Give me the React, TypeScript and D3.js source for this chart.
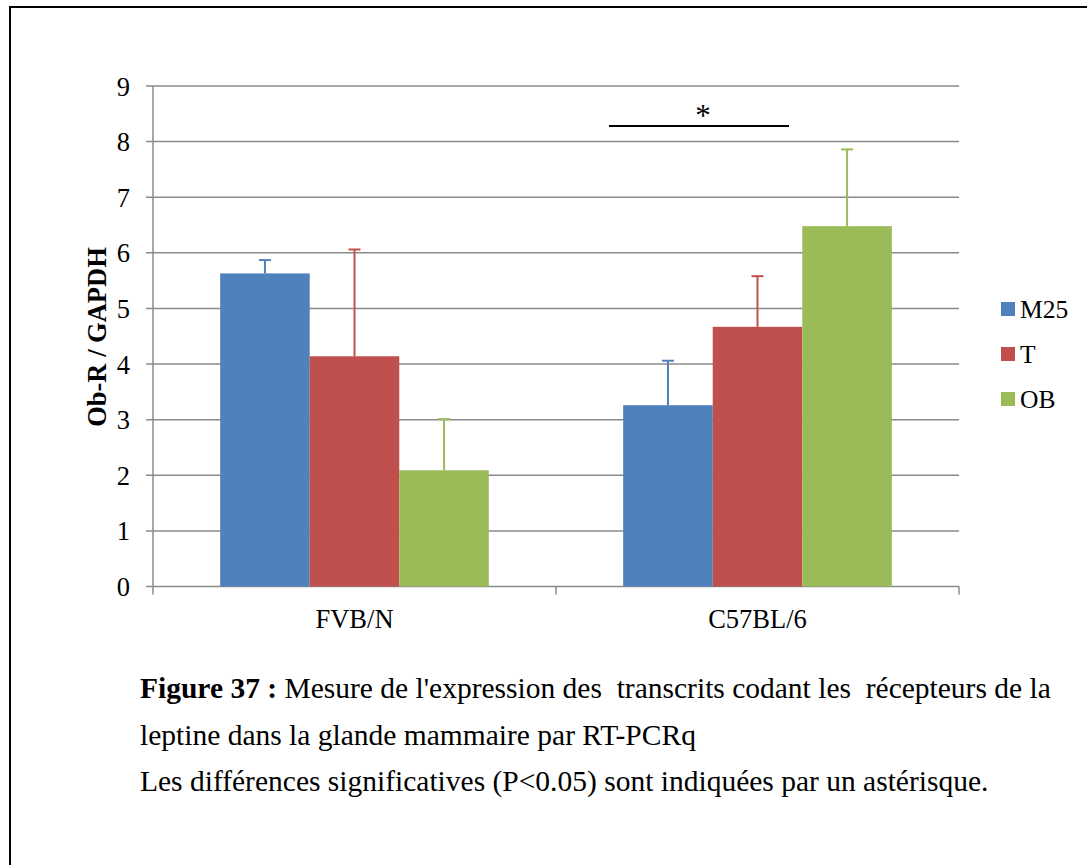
import React from "react";
import * as d3 from "d3";

const categories = ["FVB/N", "C57BL/6"];
const seriesNames = ["M25", "T", "OB"];
const seriesColors = ["#4F81BD", "#C0504D", "#9BBB59"];
const M25 = [5.63, 3.26];
const T = [4.14, 4.67];
const OB = [2.09, 6.48];
const M25err = [0.24, 0.8];
const Terr = [1.92, 0.91];
const OBerr = [0.92, 1.38];
const yTicks = [0, 1, 2, 3, 4, 5, 6, 7, 8, 9];
const captionLines = [
  "Mesure de l'expression des  transcrits codant les  récepteurs de la",
  "leptine dans la glande mammaire par RT-PCRq",
  "Les différences significatives (P<0.05) sont indiquées par un astérisque.",
];

const values = [M25, T, OB];
const errs = [M25err, Terr, OBerr];

export default function App() {
  const left = 153, right = 959, top = 86, bottom = 586.5;
  const y = d3.scaleLinear().domain([0, 9]).range([bottom, top]);
  const x0 = d3.scaleBand().domain(categories).range([left, right]).paddingInner(0).paddingOuter(0);
  const bw = x0.bandwidth();
  const groupW = (bw * 3) / 4.5;
  const x1 = d3.scaleBand().domain(seriesNames).range([0, groupW]).padding(0);
  const font = "'Liberation Serif', 'Times New Roman', serif";
  const sigY = y(8.3);
  const capSize = 29.5;
  return (
    <svg width={1087} height={865} style={{ position: "absolute", left: 0, top: 0 }} fontFamily={font}>
      <rect x={0} y={0} width={1087} height={865} fill="#fff" />
      <rect x={10} y={7} width={1100} height={900} fill="none" stroke="#000" strokeWidth={2} />
      {yTicks.map((t) => (
        <g key={t}>
          <line x1={left - 7} x2={right} y1={y(t)} y2={y(t)} stroke="#8a8a8a" strokeWidth={1.5} />
          <text x={130} y={y(t) + 9.5} textAnchor="end" fontSize={26.5} fill="#000">{t}</text>
        </g>
      ))}
      <line x1={left} x2={left} y1={top} y2={bottom} stroke="#8a8a8a" strokeWidth={1.5} />
      {[left, left + bw, right].map((xv, i) => (
        <line key={i} x1={xv} x2={xv} y1={bottom} y2={bottom + 8} stroke="#8a8a8a" strokeWidth={1.5} />
      ))}
      {categories.map((c, ci) => {
        const gx = (x0(c) as number) + (bw - groupW) / 2;
        return (
          <g key={c}>
            {seriesNames.map((s, si) => {
              const bx = gx + (x1(s) as number);
              const w = x1.bandwidth();
              const v = values[si][ci];
              const e = errs[si][ci];
              const cx = bx + w / 2;
              return (
                <g key={s}>
                  <rect x={bx} y={y(v)} width={w} height={bottom - y(v)} fill={seriesColors[si]} />
                  <line x1={cx} x2={cx} y1={y(v)} y2={y(v + e)} stroke={seriesColors[si]} strokeWidth={2} />
                  <line x1={cx - 6} x2={cx + 6} y1={y(v + e)} y2={y(v + e)} stroke={seriesColors[si]} strokeWidth={2} />
                </g>
              );
            })}
            <text x={(x0(c) as number) + bw / 2} y={628} textAnchor="middle" fontSize={26.5}>{c}</text>
          </g>
        );
      })}
      <line x1={609} x2={789} y1={sigY + 1} y2={sigY + 1} stroke="#000" strokeWidth={2} />
      <text x={703} y={126} textAnchor="middle" fontSize={31}>*</text>
      <text transform={`translate(106, 337) rotate(-90)`} textAnchor="middle" fontSize={26.5} fontWeight="bold">Ob-R / GAPDH</text>
      {seriesNames.map((s, i) => (
        <g key={s}>
          <rect x={1001} y={302 + i * 45} width={14} height={14} fill={seriesColors[i]} />
          <text x={1020} y={317.5 + i * 45} fontSize={25.5}>{s}</text>
        </g>
      ))}
      <text x={140} y={698} fontSize={capSize} style={{ whiteSpace: "pre" }}>
        <tspan fontWeight="bold">Figure 37 :</tspan>{" " + captionLines[0]}
      </text>
      <text x={140} y={745} fontSize={capSize} style={{ whiteSpace: "pre" }}>{captionLines[1]}</text>
      <text x={140} y={791} fontSize={capSize} style={{ whiteSpace: "pre" }}>{captionLines[2]}</text>
    </svg>
  );
}
